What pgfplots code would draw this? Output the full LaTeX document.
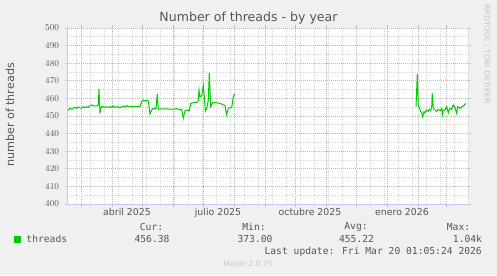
\documentclass[border=0pt]{standalone}
\usepackage{pgfplots}
\pgfplotsset{compat=1.18}
\usetikzlibrary{arrows.meta}
\usepackage{fontspec}
\setmainfont{DejaVu Sans}
\newfontfamily\monofont{DejaVu Sans Mono}
\definecolor{bg}{HTML}{F0F0F0}
\definecolor{mgrid}{HTML}{E8A8A8}
\definecolor{sgrid}{HTML}{D6D6D6}
\definecolor{axcol}{HTML}{C8C8F4}
\definecolor{txt}{HTML}{555555}
\definecolor{faint}{HTML}{C4C4C4}
\definecolor{linegreen}{HTML}{00CC00}

\pgfplotstableread{
day value
45.0 452.8
46.3 453.4
48.0 454.4
49.7 453.8
51.3 454.4
53.0 454.9
54.7 454.4
56.3 455.1
58.0 454.7
59.7 454.4
61.3 455.3
63.0 454.7
64.7 455.3
66.3 454.9
68.0 455.9
69.7 456.3
71.3 455.9
73.0 455.7
74.7 455.7
76.3 456.3
77.0 465.3
78.0 451.5
78.7 454.4
79.7 455.3
81.3 455.3
83.0 454.9
84.7 455.3
86.3 454.9
88.0 455.3
89.7 454.9
91.3 455.7
93.0 454.9
94.7 455.3
96.3 455.1
98.0 454.7
99.7 455.1
101.3 455.7
103.0 455.1
104.7 455.9
106.3 455.1
108.0 455.3
111.3 455.3
114.7 455.3
118.0 455.3
119.7 458.1
121.3 459.0
123.0 458.5
124.7 459.0
126.3 458.5
128.0 451.1
129.7 453.4
131.3 454.4
134.0 454.0
135.3 462.5
136.3 453.8
139.7 454.0
144.7 454.0
151.3 453.8
154.7 454.2
158.0 453.4
159.7 453.8
161.3 448.7
163.0 453.0
164.7 453.4
167.3 453.0
168.7 457.2
171.3 457.6
174.7 457.8
176.3 458.7
177.0 464.6
178.0 461.0
179.7 461.4
181.3 467.3
182.3 461.0
183.3 452.8
184.7 454.4
186.3 459.0
187.3 474.6
188.7 455.3
190.7 457.6
193.0 457.6
198.0 457.2
201.3 456.3
203.0 455.9
204.5 450.6
206.3 454.4
208.0 454.7
209.7 454.7
211.3 461.0
212.5 462.5
213.0 nan
394.0 455.3
395.3 473.9
396.3 455.3
397.3 454.7
398.7 452.5
399.7 451.9
400.7 449.6
402.0 452.5
403.0 451.9
404.7 453.4
406.3 452.5
407.3 453.8
408.7 453.0
409.7 455.3
410.3 462.9
411.3 454.4
413.0 453.4
414.7 452.5
416.3 453.8
418.0 453.0
419.7 454.4
420.3 450.6
421.3 453.4
423.0 453.4
424.7 455.3
426.3 451.9
428.0 454.4
429.7 453.8
431.3 456.3
433.0 454.7
434.7 451.5
435.7 455.3
438.0 454.4
439.7 455.3
441.3 455.7
443.0 456.6
443.7 457.2
}\threads

\begin{document}
\begin{tikzpicture}[x=1bp,y=1bp]
\fill[bg] (0,0) rectangle (497,275);
\useasboundingbox (0,0) rectangle (497,275);
\begin{axis}[
  at={(67bp,71bp)}, anchor=south west,
  scale only axis, width=401bp, height=176bp,
  xmin=45, xmax=446, ymin=400, ymax=500,
  axis background/.style={fill=white},
  axis line style={draw=none},
  unbounded coords=jump,
  xtick={59,90,120,151,181,212,243,273,304,334,365,396,424},
  xticklabels={},
  minor xtick={54,68,82,96,110,124,138,152,166,180,194,208,222,236,250,264,278,292,306,320,334,348,362,376,390,404,418,432,446},
  extra x ticks={105,196,288,380},
  extra x tick labels={abril 2025,julio 2025,octubre 2025,enero 2026},
  extra x tick style={grid=none, major tick length=0pt},
  ytick={400,410,...,500},
  minor ytick={405,415,...,495},
  grid=both,
  major grid style={mgrid, dash pattern=on 1bp off 1bp, line width=0.7bp},
  minor grid style={sgrid, dash pattern=on 1bp off 1bp, line width=0.7bp},
  tick align=outside,
  major tick length=2.5bp, minor tick length=0pt,
  x tick style={mgrid, line width=0.7bp},
  y tick style={axcol, line width=0.7bp},
  tick label style={font=\fontsize{9.4}{9.4}\selectfont, text=txt},
  yticklabel style={xshift=-2bp},
  xticklabel style={yshift=-1bp},
  legend style={at={(axis description cs:-0.1322,-0.2045)}, anchor=west,
    draw=none, fill=none, inner sep=0pt, outer sep=0pt,
    font=\monofont\fontsize{9.7}{9.7}\selectfont, text=txt},
  legend image code/.code={\fill[linegreen] (0bp,-3bp) rectangle (6bp,3bp); \path[draw=none,fill=none] (0bp,0bp) -- (10bp,0bp);},
]
\addplot[linegreen, line width=1bp] table[x=day, y=value] {\threads};
\addlegendentry{threads}
\draw[axcol, line width=0.8bp, -{Triangle[length=5bp,width=6bp]}] (rel axis cs:0,0) -- ([xshift=9bp]rel axis cs:1,0);
\draw[axcol, line width=0.8bp, -{Triangle[length=5bp,width=6bp]}] (rel axis cs:0,0) -- ([yshift=7bp]rel axis cs:0,1);
\end{axis}
\node[text=txt, font=\fontsize{12.6}{12.6}\selectfont] at (248.5,257) {Number of threads - by year};
\node[text=txt, font=\fontsize{11.2}{11.2}\selectfont, rotate=90] at (10,160) {number of threads};
\node[text=faint, font=\fontsize{7.7}{7.7}\selectfont, rotate=-90] at (487,221) {RRDTOOL / TOBI OETIKER};
\begin{scope}[every node/.style={text=txt, font=\monofont\fontsize{9.7}{9.7}\selectfont, inner sep=0pt}]
\node at (151.5,48) {Cur:};
\node at (152,36) {456.38};
\node at (254,48) {Min:};
\node at (255,36) {373.00};
\node at (356,48) {Avg:};
\node at (356.5,36) {455.22};
\node at (458.5,48) {Max:};
\node at (467.5,36) {1.04k};
\node[anchor=east] at (482,23) {Last update: Fri Mar 20 01:05:24 2026};
\end{scope}
\node[text=faint, font=\fontsize{7.5}{7.5}\selectfont, inner sep=0pt] at (248,11) {Munin 2.0.75};
\end{tikzpicture}
\end{document}
